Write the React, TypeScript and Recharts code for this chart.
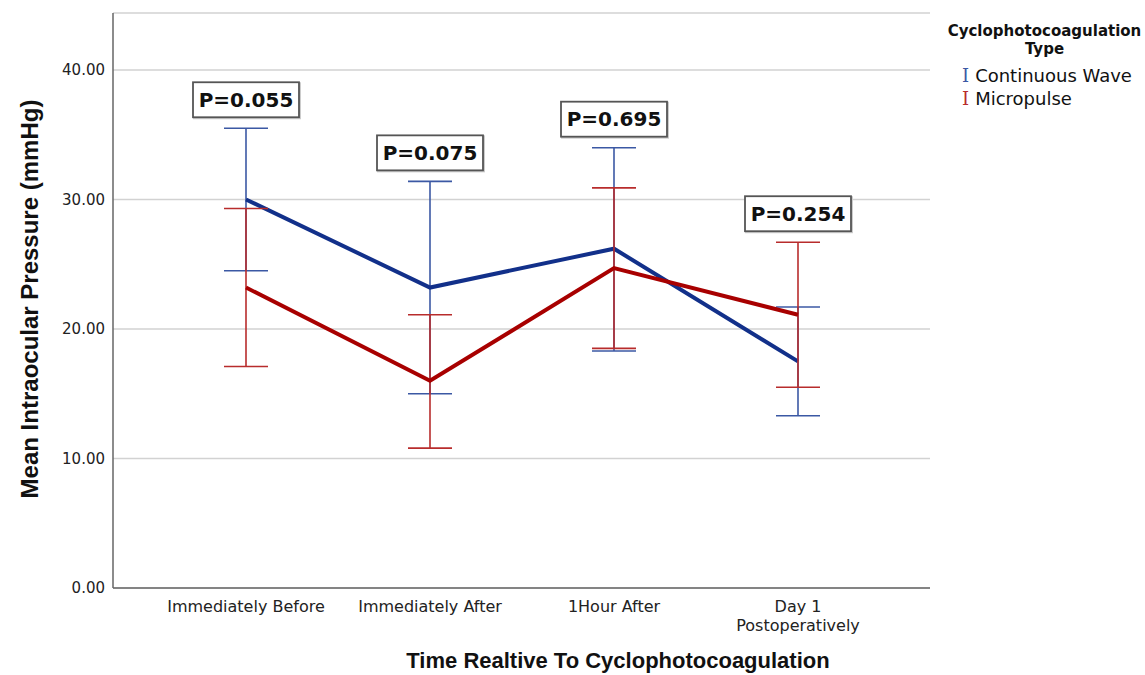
import {
	CartesianGrid,
	ErrorBar,
	Label,
	LabelList,
	Legend,
	Line,
	LineChart,
	XAxis,
	YAxis
} from 'recharts'

const categories = [
	'Immediately Before',
	'Immediately After',
	'1Hour After',
	'Day 1\nPostoperatively'
]

// Continuous Wave: mean and error bar ends (mmHg)
const cwMean = [30.0, 23.2, 26.2, 17.5]
const cwLow = [24.5, 15.0, 18.3, 13.3]
const cwHigh = [35.5, 31.4, 34.0, 21.7]

// Micropulse
const mpMean = [23.2, 16.0, 24.7, 21.1]
const mpLow = [17.1, 10.8, 18.5, 15.5]
const mpHigh = [29.3, 21.1, 30.9, 26.7]

const pValues = ['P=0.055', 'P=0.075', 'P=0.695', 'P=0.254']

const yTicks = [0, 10, 20, 30, 40]

const data = categories.map((name, i) => ({
	name,
	cw: cwMean[i],
	cwErr: [cwMean[i] - cwLow[i], cwHigh[i] - cwMean[i]],
	mp: mpMean[i],
	mpErr: [mpMean[i] - mpLow[i], mpHigh[i] - mpMean[i]],
	top: Math.max(cwHigh[i], mpHigh[i]),
	p: pValues[i]
}))

const BLUE = '#12308a'
const BLUE_BAR = '#3b58a4'
const RED = '#a80000'
const RED_BAR = '#b82c2c'
const FONT = '"DejaVu Sans", sans-serif'
const TITLE_FONT = '"Liberation Sans", Arial, sans-serif'

function XTick({ x, y, payload }: any) {
	const lines = String(payload.value).split('\n')
	return (
		<text x={x} y={y} textAnchor='middle' fill='#222' fontSize={16} fontFamily={FONT}>
			{lines.map((l, i) => (
				<tspan key={i} x={x} dy={i === 0 ? 16 : 19}>
					{l}
				</tspan>
			))}
		</text>
	)
}

function PBox({ x, y, value }: any) {
	const w = 106
	const h = 35
	const top = y - 11 - h
	return (
		<g>
			<rect x={x - w / 2 + 1} y={top + 1} width={w} height={h} fill='none' stroke='#ccc' strokeWidth={2} />
			<rect x={x - w / 2} y={top} width={w} height={h} fill='#fff' stroke='#555' strokeWidth={1.8} />
			<text
				x={x}
				y={top + h / 2}
				dy='0.36em'
				textAnchor='middle'
				fontFamily={FONT}
				fontWeight='bold'
				fontSize={20}
				fill='#111'
			>
				{value}
			</text>
		</g>
	)
}

function LegendBox() {
	const items = [
		{ label: 'Continuous Wave', color: BLUE_BAR },
		{ label: 'Micropulse', color: RED_BAR }
	]
	return (
		<div style={{ fontFamily: FONT, color: '#111', width: 205 }}>
			<div style={{ fontWeight: 700, fontSize: 15, textAlign: 'center', lineHeight: '18px' }}>
				Cyclophotocoagulation
				<br />
				Type
			</div>
			<div style={{ marginTop: 6, paddingLeft: 20 }}>
				{items.map((it) => (
					<div key={it.label} style={{ fontSize: 18, lineHeight: '23px', whiteSpace: 'nowrap' }}>
						<span style={{ color: it.color, fontFamily: '"DejaVu Serif", serif', marginRight: 6 }}>I</span>
						{it.label}
					</div>
				))}
			</div>
		</div>
	)
}

export default function App() {
	return (
		<div style={{ position: 'absolute', left: 0, top: 0, background: '#fff' }}>
			<LineChart width={1145} height={675} data={data} margin={{ top: 13, right: 10, bottom: 0, left: 0 }}>
				<CartesianGrid vertical={false} stroke='#d2d2d2' strokeWidth={1.5} />
				<XAxis
					dataKey='name'
					height={87}
					padding={{ left: 133, right: 132 }}
					tickLine={false}
					stroke='#666'
					strokeWidth={1.5}
					interval={0}
					tick={<XTick />}
				>
					<Label
						content={() => (
							<text
								x={618}
								y={668}
								textAnchor='middle'
								fontFamily={TITLE_FONT}
								fontWeight='bold'
								fontSize={22}
								fill='#111'
							>
								Time Realtive To Cyclophotocoagulation
							</text>
						)}
					/>
				</XAxis>
				<YAxis
					width={113}
					domain={[0, 44.4]}
					ticks={yTicks}
					tickFormatter={(v: number) => v.toFixed(2)}
					tickLine={false}
					tick={{ fill: '#222', fontSize: 15, fontFamily: FONT }}
					stroke='#666'
					strokeWidth={1.5}
				>
					<Label
						content={() => (
							<text
								x={29}
								y={299}
								transform='rotate(-90 29 299)'
								textAnchor='middle'
								dominantBaseline='central'
								fontFamily={TITLE_FONT}
								fontWeight='bold'
								fontSize={24}
								fill='#111'
							>
								Mean Intraocular Pressure (mmHg)
							</text>
						)}
					/>
				</YAxis>
				<Legend
					layout='vertical'
					align='right'
					verticalAlign='top'
					content={<LegendBox />}
					wrapperStyle={{ top: 22, left: 942, width: 205 }}
				/>
				<Line
					dataKey='cw'
					name='Continuous Wave'
					stroke={BLUE}
					strokeWidth={4}
					dot={false}
					activeDot={false}
					isAnimationActive={false}
				>
					<ErrorBar dataKey='cwErr' width={22} stroke={BLUE_BAR} strokeWidth={1.6} direction='y' />
				</Line>
				<Line
					dataKey='mp'
					name='Micropulse'
					stroke={RED}
					strokeWidth={4}
					dot={false}
					activeDot={false}
					isAnimationActive={false}
				>
					<ErrorBar dataKey='mpErr' width={22} stroke={RED_BAR} strokeWidth={1.6} direction='y' />
				</Line>
				<Line
					dataKey='top'
					stroke='none'
					dot={false}
					activeDot={false}
					legendType='none'
					isAnimationActive={false}
				>
					<LabelList dataKey='p' content={<PBox />} />
				</Line>
			</LineChart>
		</div>
	)
}
